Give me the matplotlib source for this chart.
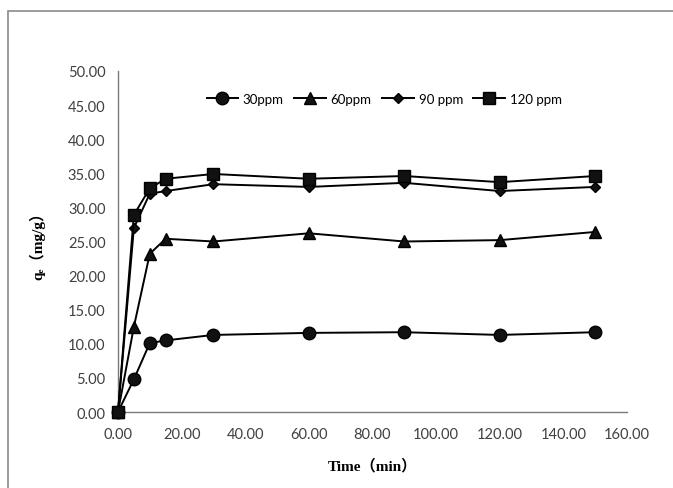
#!/usr/bin/env python3
"""Adsorption kinetics: qe versus contact time for four initial concentrations."""

import matplotlib as mpl

mpl.use("Agg")

import matplotlib.pyplot as plt
from matplotlib.patches import Rectangle
from matplotlib.ticker import FormatStrFormatter, MultipleLocator

time_min = [0, 5, 10, 15, 30, 60, 90, 120, 150]
qe_30ppm = [0.0, 4.8, 10.1, 10.5, 11.3, 11.6, 11.7, 11.3, 11.7]
qe_60ppm = [0.0, 12.5, 23.2, 25.4, 25.0, 26.2, 25.0, 25.2, 26.4]
qe_90ppm = [0.0, 27.0, 32.0, 32.4, 33.4, 33.0, 33.6, 32.4, 33.0]
qe_120ppm = [0.0, 28.9, 32.8, 34.2, 34.9, 34.2, 34.6, 33.7, 34.6]

series = [
    ("30ppm", qe_30ppm, "o", 9),
    ("60ppm", qe_60ppm, "^", 9),
    ("90 ppm", qe_90ppm, "D", 5.5),
    ("120 ppm", qe_120ppm, "s", 9),
]

TICK_FONT = ["Lato", "DejaVu Sans"]
LABEL_FONT = ["Liberation Serif", "DejaVu Serif", "Noto Sans CJK SC"]


def main() -> None:
    fig = plt.figure(figsize=(6.73, 4.89), dpi=100)
    ax = fig.add_axes([0.1753, 0.1554, 0.7563, 0.6974])

    # outer frame, only top and left edges fall inside the picture
    fig.patches.append(
        Rectangle((8 / 673, -0.05), 1.2, 1 - 12 / 489 + 0.05,
                  transform=fig.transFigure, fill=False,
                  edgecolor="#8a8a8a", linewidth=1.2)
    )

    for label, values, marker, size in series:
        ax.plot(time_min, values, color="black", linewidth=1.4,
                marker=marker, markersize=size, markerfacecolor="#111111",
                markeredgecolor="black", label=label, clip_on=False, zorder=3)

    ax.set_xlim(0, 160)
    ax.set_ylim(0, 50)
    ax.xaxis.set_major_locator(MultipleLocator(20))
    ax.yaxis.set_major_locator(MultipleLocator(5))
    ax.xaxis.set_major_formatter(FormatStrFormatter("%.2f"))
    ax.yaxis.set_major_formatter(FormatStrFormatter("%.2f"))
    ax.tick_params(length=0, labelsize=10.5, labelcolor="#404040")
    ax.tick_params(axis="x", pad=11)
    ax.tick_params(axis="y", pad=9)
    for lab in ax.get_xticklabels() + ax.get_yticklabels():
        lab.set_family(TICK_FONT)

    for side in ("top", "right"):
        ax.spines[side].set_visible(False)
    for side in ("left", "bottom"):
        ax.spines[side].set_color("#7a7a7a")
        ax.spines[side].set_linewidth(1.0)

    ax.set_xlabel("Time\uff08min\uff09", family=LABEL_FONT, fontsize=11,
                  fontweight="bold", labelpad=12)
    ax.set_ylabel("q\u2091\uff08mg/g\uff09", family=LABEL_FONT,
                  fontsize=11, fontweight="bold", labelpad=16)

    ax.legend(loc="upper center", bbox_to_anchor=(0.523, 0.97), ncol=4,
              frameon=False, handlelength=2.4, handletextpad=0.35,
              columnspacing=0.8, prop={"family": TICK_FONT, "size": 9.5})

    fig.savefig("out.png", dpi=100, facecolor="white")
    plt.close(fig)


if __name__ == "__main__":
    main()
